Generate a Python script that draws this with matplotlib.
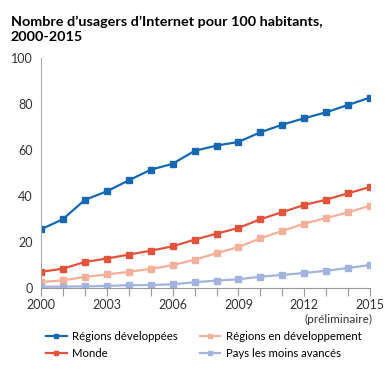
import numpy as np
import matplotlib.pyplot as plt

# Données
annees = list(range(2000, 2016))
developpees = [25.5, 29.9, 38.3, 42.0, 46.8, 51.4, 54.0, 59.6, 61.9, 63.5, 67.7, 71.0, 73.8, 76.4, 79.6, 82.8]
monde = [7.0, 8.4, 11.3, 12.8, 14.5, 16.2, 18.1, 21.0, 23.6, 26.1, 29.9, 33.0, 36.1, 38.4, 41.2, 43.9]
en_developpement = [2.6, 3.3, 4.8, 5.9, 7.0, 8.3, 9.9, 12.3, 15.1, 17.8, 21.6, 24.8, 28.0, 30.4, 32.9, 35.8]
moins_avances = [0.5, 0.6, 0.7, 0.9, 1.2, 1.3, 1.6, 2.5, 3.2, 3.8, 4.9, 5.7, 6.5, 7.5, 8.7, 10.0]
etiquettes_x = ['2000', '2003', '2006', '2009', '2012', '2015']

plt.rcParams['font.family'] = ['Lato', 'DejaVu Sans']

fig = plt.figure(figsize=(3.86, 3.74), dpi=100)
ax = fig.add_axes([0.106, 0.230, 0.853, 0.615])

series = [
    ('Régions développées', developpees, '#1668b3'),
    ('Monde', monde, '#e2533c'),
    ('Régions en développement', en_developpement, '#f3b09a'),
    ('Pays les moins avancés', moins_avances, '#a2b3de'),
]
for nom, vals, couleur in series:
    ax.plot(annees, vals, color=couleur, lw=1.6, marker='s', ms=4, label=nom)

ax.set_xlim(2000, 2015)
ax.set_ylim(0, 100)
ax.set_xticks(annees)
ax.set_xticklabels([str(a) if str(a) in etiquettes_x else '' for a in annees])
ax.set_yticks([0, 20, 40, 60, 80, 100])
ax.set_yticks([100], minor=True)
ax.tick_params(axis='y', which='major', length=0, pad=6, labelsize=9, colors='#333333')
ax.tick_params(axis='y', which='minor', length=4, color='#999999')
ax.tick_params(axis='x', length=6, color='#999999', labelsize=9, labelcolor='#333333', pad=2)

for s in ['top', 'right']:
    ax.spines[s].set_visible(False)
ax.spines['left'].set_color('#aaaaaa')
ax.spines['bottom'].set_color('#999999')

fig.text(0.964, 0.147, '(préliminaire)', ha='right', va='center', fontsize=8.5, color='#333333')

fig.text(0.028, 0.922, "Nombre d\u2019usagers d\u2019Internet pour 100 habitants,\n2000-2015",
         ha='left', va='center', fontsize=10.4, fontweight='bold', linespacing=1.35)

fig.legend(loc='upper left', bbox_to_anchor=(0.105, 0.131), ncol=2, frameon=False,
           fontsize=8.2, handlelength=1.8, handletextpad=0.5, columnspacing=1.9,
           labelspacing=0.55, borderpad=0, markerscale=0.8)

fig.savefig('out.png', dpi=100)
